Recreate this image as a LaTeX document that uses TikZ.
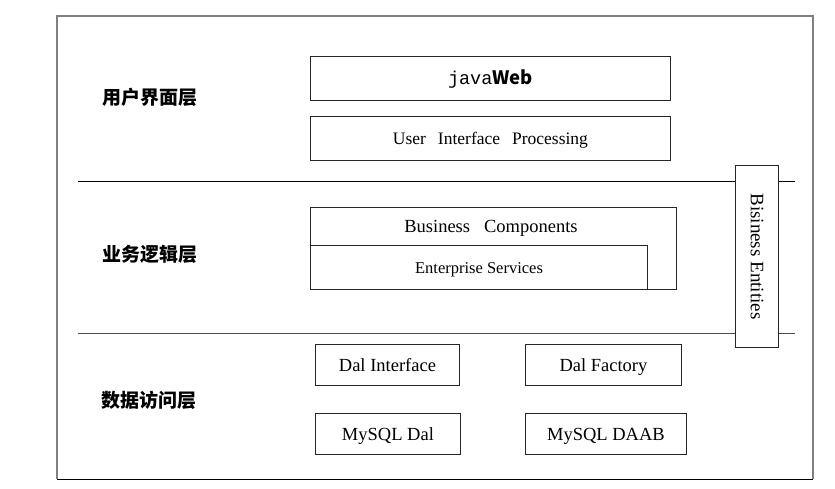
\documentclass[tikz,border=0pt]{standalone}
\usepackage{fontspec}
\setmainfont{Liberation Serif}
\newfontfamily\monof{Liberation Mono}
\newfontfamily\cjk{Noto Sans CJK SC}
\begin{document}
\begin{tikzpicture}[x=1pt,y=-1pt,
  box/.style={draw=black!85,line width=0.9pt,rectangle,inner sep=0pt,anchor=north west},
  txt/.style={yshift=-2pt,text height=13pt,text depth=4pt,font=\fontsize{18.5}{20}\selectfont},
  layerlabel/.style={font=\cjk\bfseries\fontsize{19}{20}\selectfont,inner sep=0pt},
  layerline/.style={draw=black,line width=1pt},
  frame/.style={draw=black!50,line width=1.6pt}]
\useasboundingbox (0,0) rectangle (835,489);
% outer frame
\coordinate (ftl) at (57,16);
\coordinate (ftr) at (813,16);
\coordinate (fbl) at (57,479);
\coordinate (fbr) at (813,479);
\draw[frame] (fbl) -- (ftl) -- (ftr) -- (fbr);
\draw[layerline] (fbl) -- (fbr);
% layer labels
\node[layerlabel] (l1) at (150,97) {用户界面层};
\node[layerlabel] (l2) at (150,254) {业务逻辑层};
\node[layerlabel] (l3) at (149,400) {数据访问层};
% user interface layer
\node[box,minimum width=360pt,minimum height=44pt] (jw) at (310,56) {};
\node[txt] (jwt) at (jw.center) {\fontsize{18.5}{20}\selectfont\monof java\cjk\bfseries Web};
\node[box,minimum width=360pt,minimum height=44pt] (uip) at (310,116) {};
\node[txt] (uipt) at (uip.center) {\fontsize{17.5}{20}\selectfont User\hspace{12pt}Interface\hspace{12pt}Processing};
% business layer
\node[box,minimum width=366pt,minimum height=82pt] (bc) at (310,207) {};
\node[box,minimum width=337pt,minimum height=44pt] (es) at (310,245) {};
\node[txt] (bct) at (491,226) {Business\hspace{14pt}Components};
\node[txt,font=\fontsize{16.5}{20}\selectfont] (est) at (479,267) {Enterprise Services};
% entities
\node[box,minimum width=43pt,minimum height=182pt] (be) at (735,165) {};
\node[rotate=-90,font=\fontsize{19}{20}\selectfont] (bet) at (be.center) {Bisiness Entities};
% layer lines
\coordinate (a1) at (78,182);
\coordinate (b1) at (795,182);
\coordinate (a2) at (78,333);
\coordinate (b2) at (795,333);
\draw[layerline] (a1) -- (a1 -| be.west);
\draw[layerline] (b1 -| be.east) -- (b1);
\draw[layerline,draw=black!70] (a2) -- (a2 -| be.west);
\draw[layerline,draw=black!70] (b2 -| be.east) -- (b2);
% data layer
\node[box,minimum width=144pt,minimum height=41pt] (di) at (315,344) {};
\node[txt] (dit) at (di.center) {Dal Interface};
\node[box,minimum width=156pt,minimum height=41pt] (df) at (525,344) {};
\node[txt] (dft) at (df.center) {Dal Factory};
\node[box,minimum width=145pt,minimum height=41pt] (md) at (315,413) {};
\node[txt] (mdt) at (md.center) {MySQL Dal};
\node[box,minimum width=161pt,minimum height=41pt] (mda) at (525,413) {};
\node[txt] (mdat) at (mda.center) {MySQL DAAB};
\end{tikzpicture}
\end{document}
